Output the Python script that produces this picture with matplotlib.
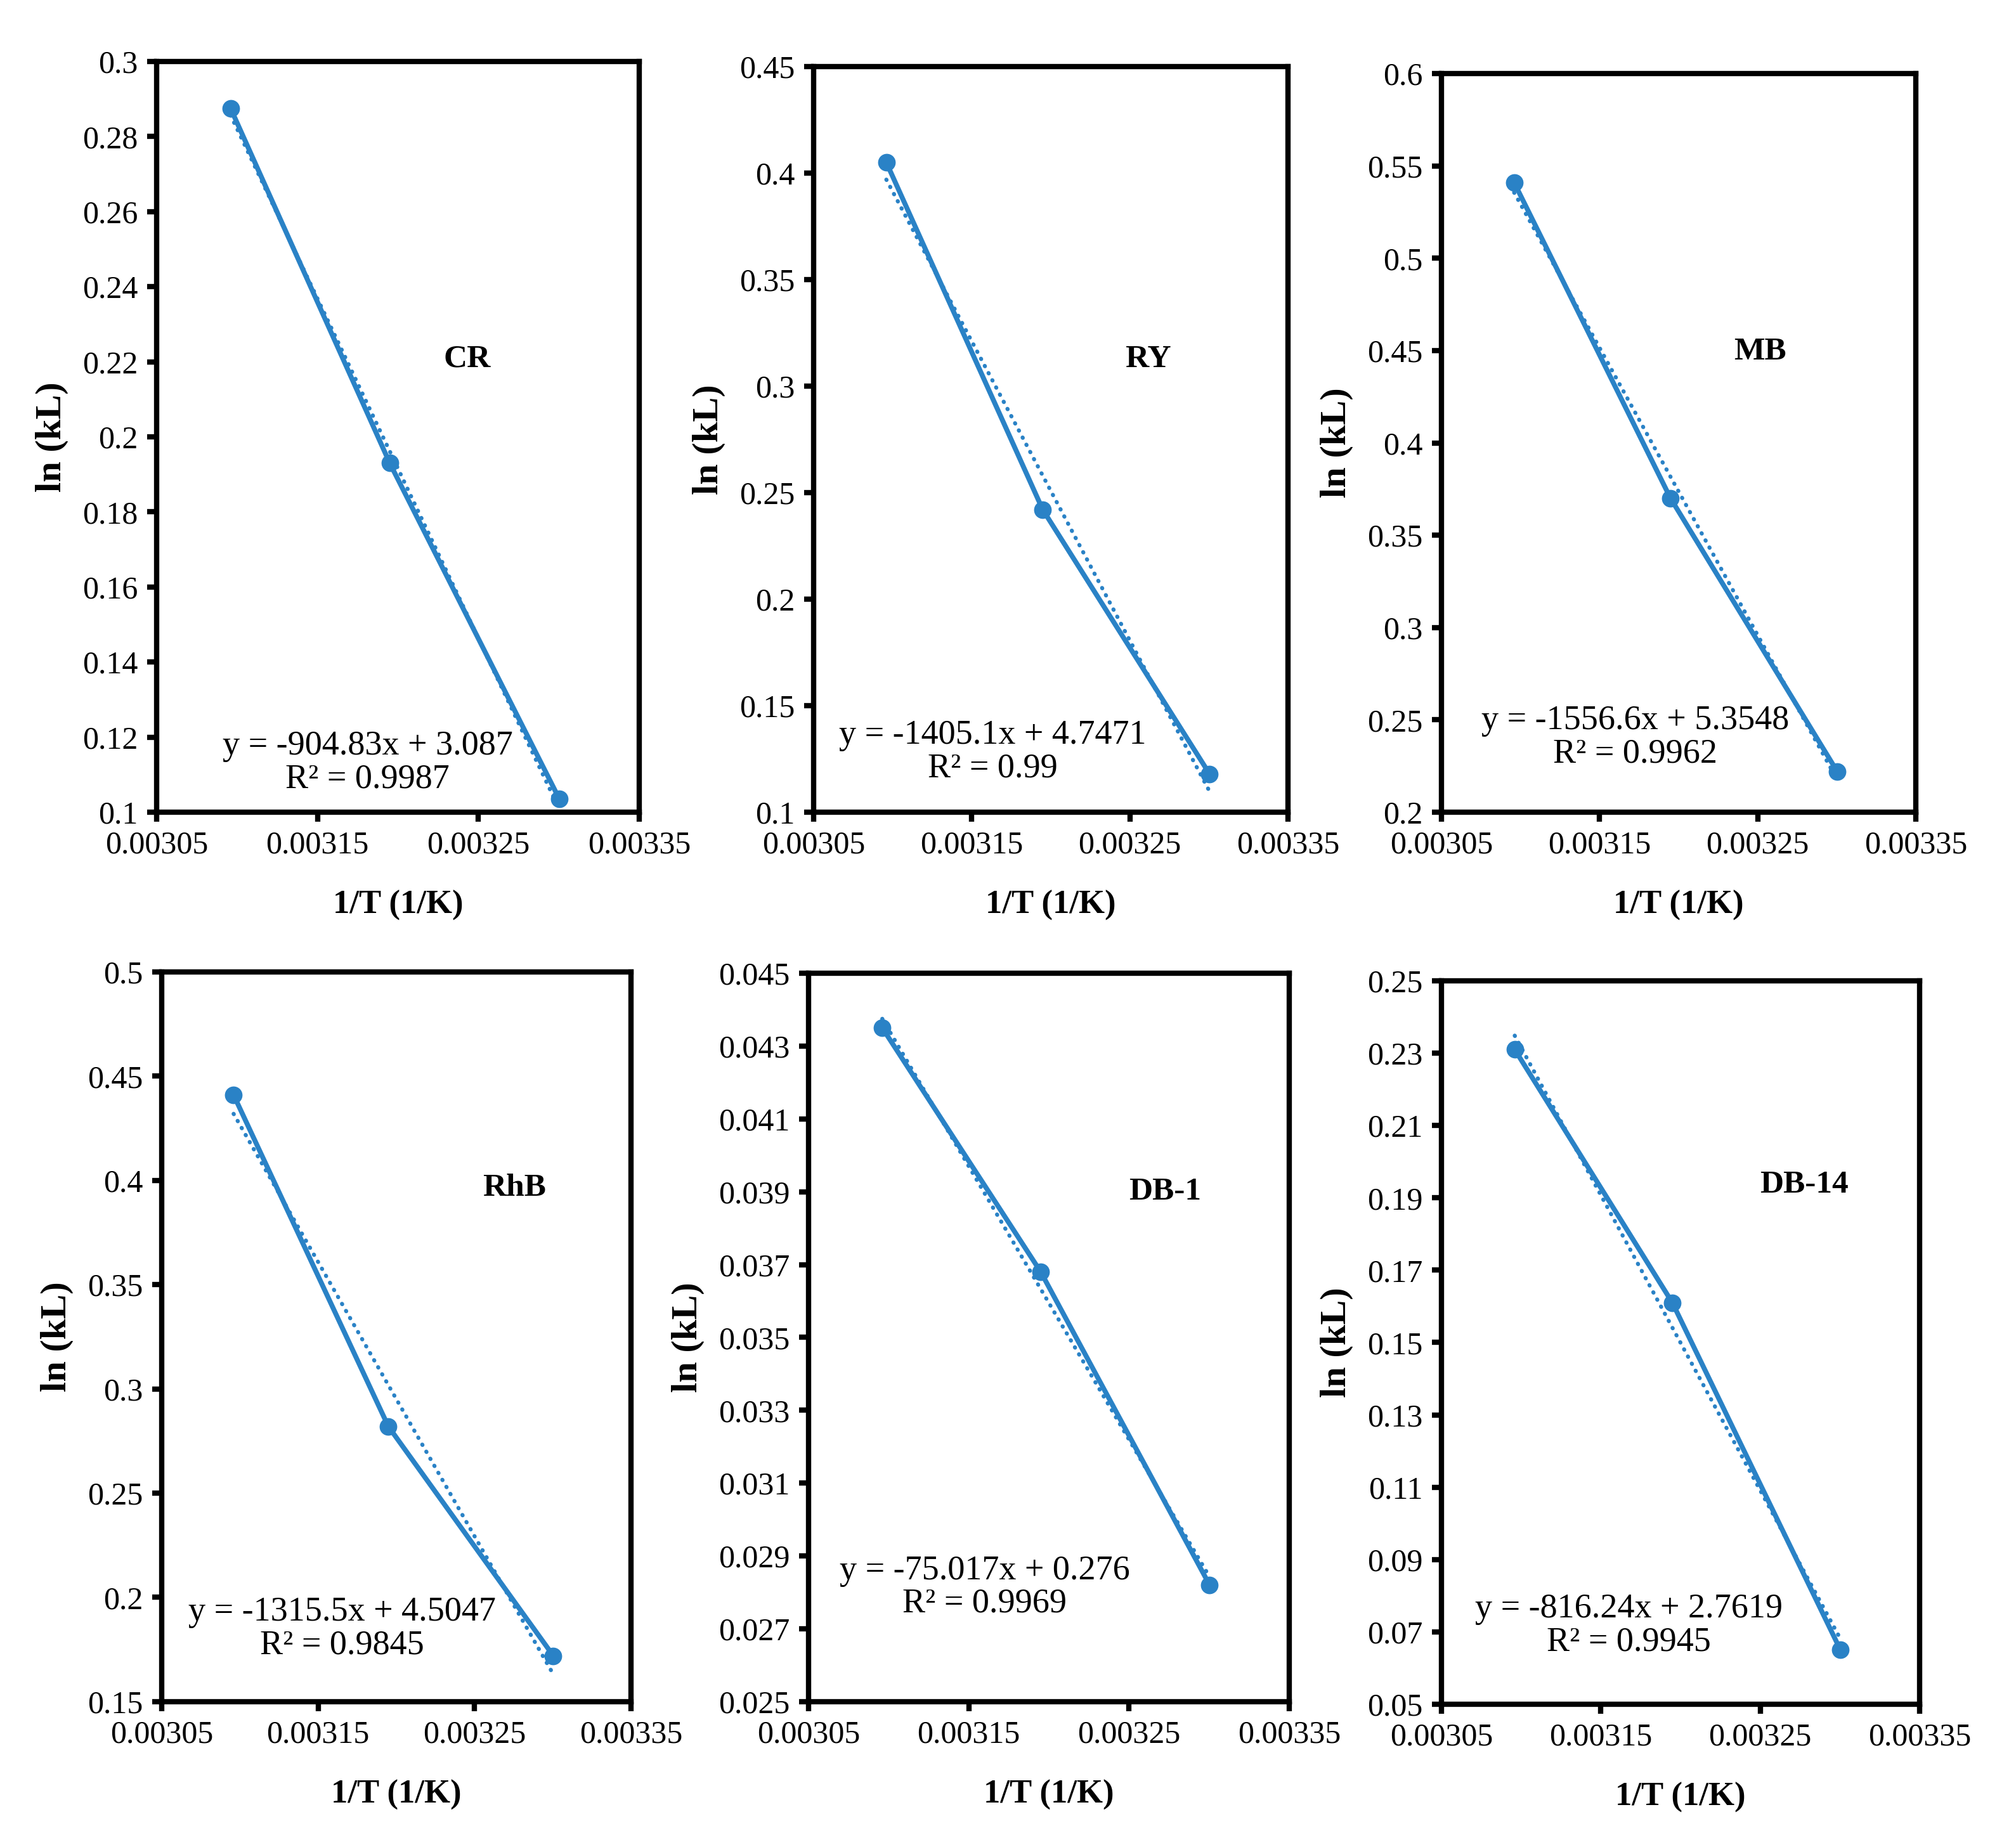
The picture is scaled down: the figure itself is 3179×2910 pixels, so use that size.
import matplotlib
matplotlib.use('Agg')
import matplotlib.pyplot as plt
import numpy as np

plt.rcParams['font.family'] = ['Liberation Serif', 'DejaVu Serif']

# 1/T for 323, 313, 303 K
inv_T = [1 / 323, 1 / 313, 1 / 303]

names = ['CR', 'RY', 'MB', 'RhB', 'DB-1', 'DB-14']
ln_kl = [
    [0.2875, 0.193, 0.1035],
    [0.405, 0.242, 0.118],
    [0.541, 0.370, 0.222],
    [0.441, 0.282, 0.172],
    [0.0435, 0.0368, 0.0282],
    [0.231, 0.161, 0.065],
]
slopes = [-904.83, -1405.1, -1556.6, -1315.5, -75.017, -816.24]
intercepts = [3.087, 4.7471, 5.3548, 4.5047, 0.276, 2.7619]
r2 = ['0.9987', '0.99', '0.9962', '0.9845', '0.9969', '0.9945']
eq_text = ['y = -904.83x + 3.087', 'y = -1405.1x + 4.7471', 'y = -1556.6x + 5.3548',
           'y = -1315.5x + 4.5047', 'y = -75.017x + 0.276', 'y = -816.24x + 2.7619']
y_lims = [(0.1, 0.3, 0.02), (0.1, 0.45, 0.05), (0.2, 0.6, 0.05),
          (0.15, 0.5, 0.05), (0.025, 0.045, 0.002), (0.05, 0.25, 0.02)]
x_ticks = [0.00305, 0.00315, 0.00325, 0.00335]

# layout (figure fractions) and text placement (axes fractions)
boxes = [
    [0.0777, 0.5598, 0.2394, 0.4069],
    [0.4036, 0.5598, 0.2353, 0.4041],
    [0.7150, 0.5598, 0.2353, 0.4003],
    [0.0802, 0.0777, 0.2328, 0.3955],
    [0.4011, 0.0777, 0.2384, 0.3948],
    [0.7150, 0.0763, 0.2372, 0.3921],
]
name_pos = [(0.643, 0.603), (0.705, 0.607), (0.672, 0.623),
            (0.751, 0.704), (0.741, 0.700), (0.758, 0.718)]
eq_pos = [(0.437, 0.066), (0.377, 0.081), (0.409, 0.101),
          (0.384, 0.100), (0.366, 0.157), (0.392, 0.109)]

blue = '#2a82c6'

fig = plt.figure(figsize=(31.79, 29.10), dpi=100)

for i in range(6):
    ax = fig.add_axes(boxes[i])
    x = np.array(inv_T)
    ax.plot(x, ln_kl[i], color=blue, lw=5.6, marker='o', markersize=19, zorder=3)
    # linear trendline over the data range
    xt = np.array([x.min(), x.max()])
    ax.plot(xt, slopes[i] * xt + intercepts[i], color=blue, lw=4.6,
            linestyle=(0, (0.1, 1.9)), dash_capstyle='round', zorder=2)

    lo, hi, step = y_lims[i]
    yt = np.arange(lo, hi + step / 2, step)
    ax.set_ylim(lo, hi)
    ax.set_yticks(yt)
    ax.set_yticklabels([f'{round(v, 6):g}' for v in yt])
    ax.set_xlim(0.00305, 0.00335)
    ax.set_xticks(x_ticks)
    ax.set_xticklabels([f'{v:g}' for v in x_ticks])

    for s in ax.spines.values():
        s.set_linewidth(6)
        s.set_color('black')
    ax.tick_params(direction='out', length=11, width=6, labelsize=36, pad=10,
                   top=False, right=False)

    ax.set_xlabel('1/T (1/K)', fontsize=38, fontweight='bold', labelpad=34)
    ax.set_ylabel('ln (kL)', fontsize=42, fontweight='bold', labelpad=16)

    ax.text(name_pos[i][0], name_pos[i][1], names[i], transform=ax.transAxes,
            fontsize=37, fontweight='bold', ha='center', va='center')
    ax.text(eq_pos[i][0], eq_pos[i][1], eq_text[i] + '\nR² = ' + r2[i],
            transform=ax.transAxes, fontsize=39, ha='center', va='center',
            multialignment='center', linespacing=1.05)

fig.savefig('out.png', dpi=100, facecolor='white')
